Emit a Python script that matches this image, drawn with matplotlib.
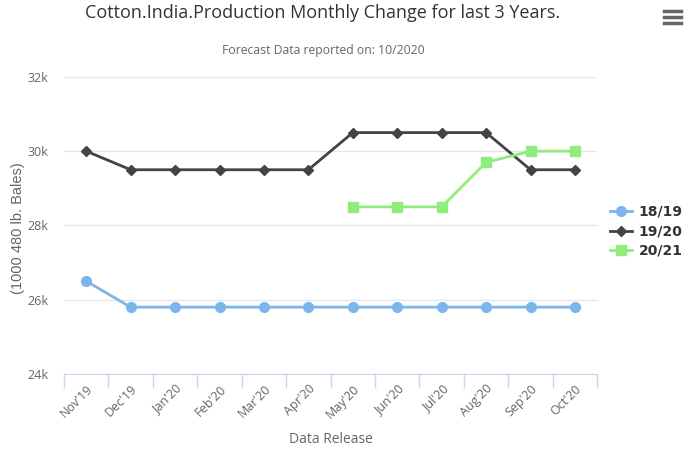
#!/usr/bin/env python3
"""
Cotton India production - monthly change of the forecast over the last 3 years.
"""

import matplotlib
matplotlib.use('Agg')
import matplotlib.pyplot as plt
from matplotlib.lines import Line2D
import numpy as np

# Data (1000 480 lb. bales)
releases = ["Nov'19", "Dec'19", "Jan'20", "Feb'20", "Mar'20", "Apr'20",
            "May'20", "Jun'20", "Jul'20", "Aug'20", "Sep'20", "Oct'20"]
crop_1819 = [26500, 25800, 25800, 25800, 25800, 25800,
             25800, 25800, 25800, 25800, 25800, 25800]
crop_1920 = [30000, 29500, 29500, 29500, 29500, 29500,
             30500, 30500, 30500, 30500, 29500, 29500]
crop_2021 = [None, None, None, None, None, None,
             28500, 28500, 28500, 29700, 30000, 30000]
y_ticks = [24000, 26000, 28000, 30000, 32000]
y_tick_labels = ['24k', '26k', '28k', '30k', '32k']

TEXT_FONT = ['Open Sans', 'DejaVu Sans']


def to_array(vals):
    return np.array([np.nan if v is None else v for v in vals], dtype=float)


def main():
    fig = plt.figure(figsize=(6.96, 4.55), dpi=100)
    fig.patch.set_facecolor('white')
    ax = fig.add_axes([0.092, 0.178, 0.766, 0.653])

    x = np.arange(len(releases))
    ax.plot(x, to_array(crop_1819), color='#7cb5ec', lw=2, marker='o', ms=7,
            label='18/19', zorder=3)
    ax.plot(x, to_array(crop_1920), color='#434348', lw=2, marker='D', ms=5,
            label='19/20', zorder=3)
    ax.plot(x, to_array(crop_2021), color='#90ed7d', lw=2, marker='s', ms=7,
            label='20/21', zorder=3)

    ax.set_xlim(-0.5, len(releases) - 0.5)
    ax.set_ylim(24000, 32000)
    ax.set_yticks(y_ticks)
    ax.set_yticklabels(y_tick_labels, color='#666666', fontsize=9, family=TEXT_FONT)
    ax.tick_params(axis='y', length=0, pad=11)
    ax.grid(axis='y', color='#e6e6e6', linewidth=1)
    ax.set_axisbelow(True)

    # category ticks on boundaries, labels at centres
    ax.set_xticks(np.arange(-0.5, len(releases), 1.0))
    ax.set_xticklabels([])
    ax.set_xticks(x, minor=True)
    ax.set_xticklabels(releases, minor=True, rotation=45, ha='right',
                       rotation_mode='anchor', color='#666666', fontsize=9,
                       family=TEXT_FONT)
    ax.tick_params(axis='x', which='major', length=10, color='#ccd6eb', width=1)
    ax.tick_params(axis='x', which='minor', length=0, pad=6)

    for side in ['top', 'right', 'left']:
        ax.spines[side].set_visible(False)
    ax.spines['bottom'].set_color('#ccd6eb')

    ax.set_xlabel('Data Release', color='#666666', fontsize=10,
                  family=TEXT_FONT, labelpad=8)
    ax.set_ylabel('(1000 480 lb. Bales)', color='#666666', fontsize=10.5,
                  family=['Liberation Sans', 'DejaVu Sans'])
    ax.yaxis.set_label_coords(-0.074, 0.49)

    fig.text(0.464, 0.971, 'Cotton.India.Production Monthly Change for last 3 Years.',
             ha='center', va='center', fontsize=13, color='#333333',
             family=TEXT_FONT)
    fig.text(0.465, 0.89, 'Forecast Data reported on: 10/2020',
             ha='center', va='center', fontsize=8.8, color='#666666',
             family=TEXT_FONT)

    # menu icon
    for yy in [0.975, 0.962, 0.949]:
        fig.add_artist(Line2D([0.954, 0.978], [yy, yy], color='#666666',
                              lw=2.5, transform=fig.transFigure))

    leg = ax.legend(loc='center left', bbox_to_anchor=(1.0, 0.48), frameon=False,
                    prop={'weight': 'bold', 'size': 10}, labelspacing=0.4,
                    handlelength=1.6, handletextpad=0.5)
    for t in leg.get_texts():
        t.set_color('#333333')

    fig.savefig('out.png', dpi=100, facecolor='white')
    plt.close(fig)


if __name__ == "__main__":
    main()
